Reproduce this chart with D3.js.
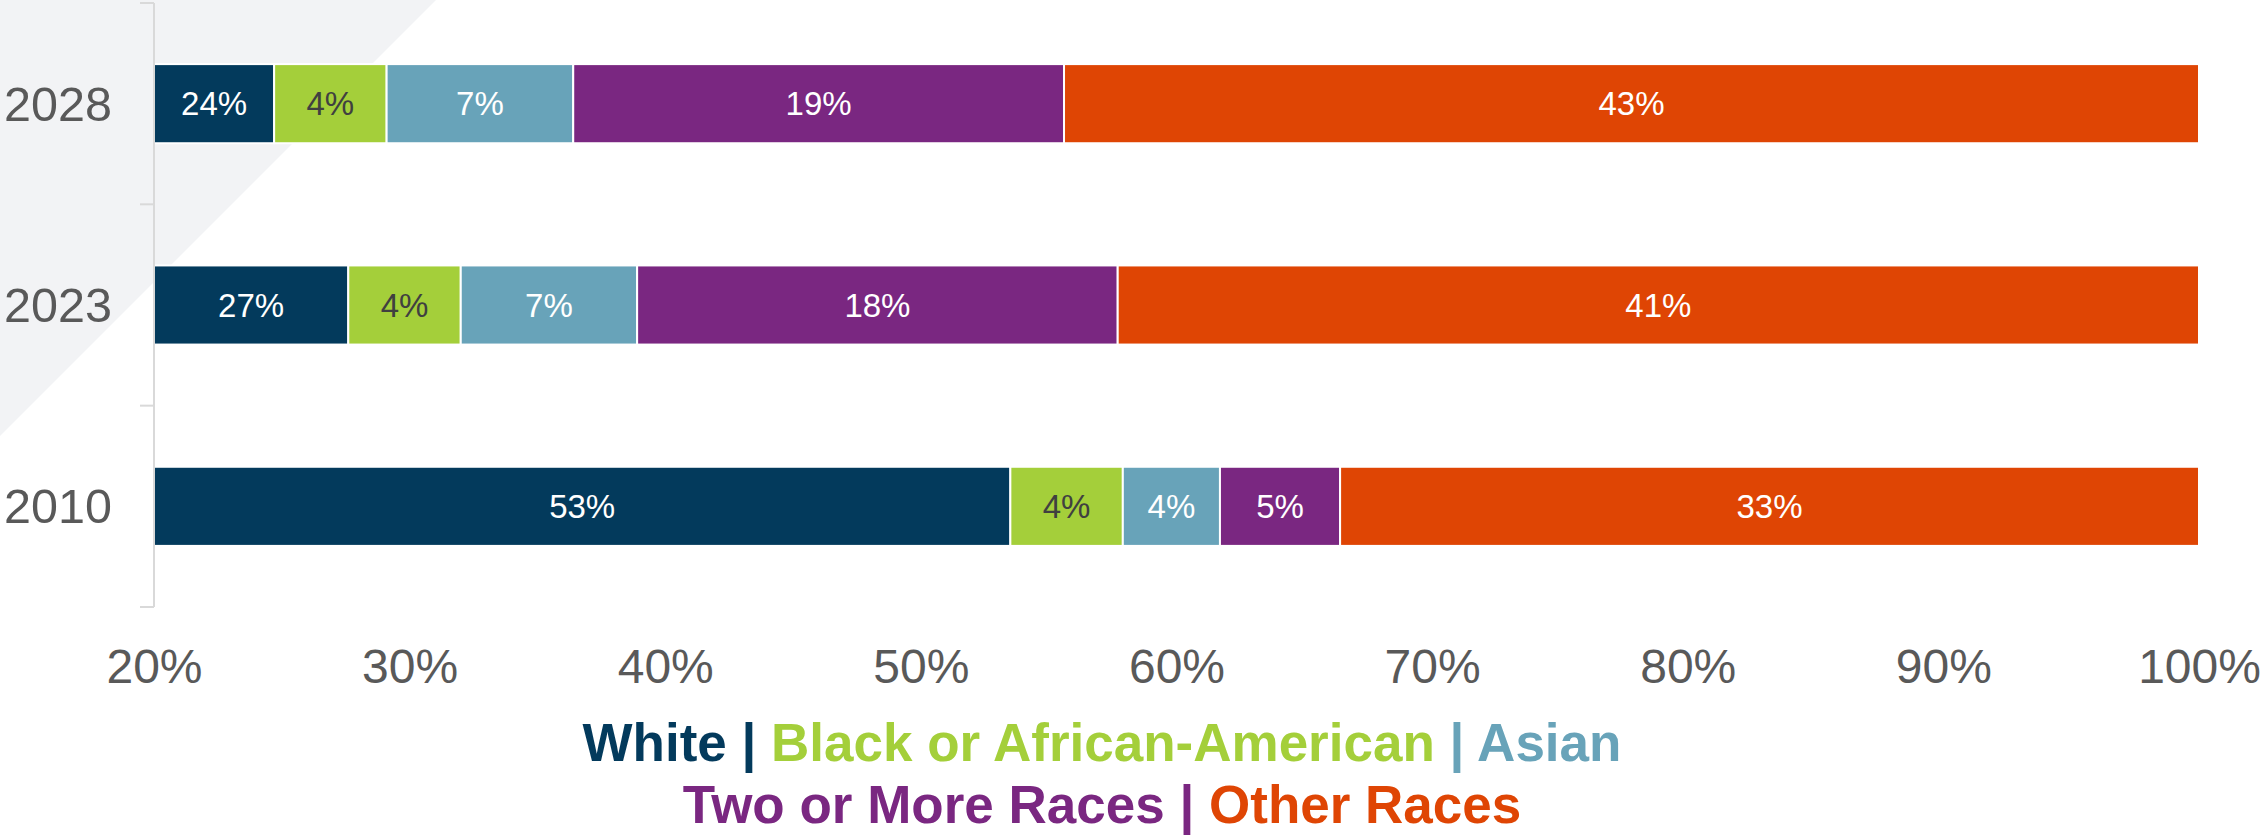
<!DOCTYPE html>
<html>
<head>
<meta charset="utf-8">
<script src="https://cdn.jsdelivr.net/npm/d3@7"></script>
<style>
  body { margin: 0; background: #fff; }
  svg { display: block; font-family: Arial, "Liberation Sans", sans-serif; }
</style>
</head>
<body>
<svg id="chart" width="2260" height="835"></svg>
<script>
// years top to bottom
const years = ['2028', '2023', '2010'];
const groups = ['White', 'Black or African-American', 'Asian', 'Two or More Races', 'Other Races'];
const groupColors = ['#033a5c', '#a4cf3a', '#68a3b9', '#7a2781', '#df4504'];

// shares in %
const white = [24.7, 27.6, 53.5];
const black = [4.4, 4.4, 4.4];
const asian = [7.3, 6.9, 3.8];
const twoOrMore = [19.2, 18.8, 4.7];
const other = [44.4, 42.3, 33.6];

// labels as printed on the bars
const whiteLabels = ['24%', '27%', '53%'];
const blackLabels = ['4%', '4%', '4%'];
const asianLabels = ['7%', '7%', '4%'];
const twoLabels = ['19%', '18%', '5%'];
const otherLabels = ['43%', '41%', '33%'];

const xTicks = [20, 30, 40, 50, 60, 70, 80, 90, 100];

const series = [white, black, asian, twoOrMore, other];
const labels = [whiteLabels, blackLabels, asianLabels, twoLabels, otherLabels];

const rows = years.map((yr, i) => {
    const row = { year: yr };
    groups.forEach((g, k) => { row[g] = series[k][i]; });
    return row;
});

const svg = d3.select('#chart');

// light grey corner behind the plot
svg.append('path')
    .attr('d', 'M0,0 L436,0 L0,436 Z')
    .attr('fill', '#f2f3f5');

const x = d3.scaleLinear().domain([20, 100]).range([154, 2199]);
const yOuter = d3.scaleBand().domain(years).range([3, 607]).padding(0);
const y = d3.scaleBand().domain(years).range([3, 607]).paddingInner(0.607).paddingOuter(0.3035);

const stacked = d3.stack().keys(groups)(rows);

const layer = svg.append('g')
    .selectAll('g')
    .data(stacked)
    .join('g')
    .attr('fill', (d, i) => groupColors[i]);

layer.selectAll('rect')
    .data(d => d)
    .join('rect')
    .attr('x', d => x(Math.max(20, d[0])))
    .attr('y', d => y(d.data.year))
    .attr('width', d => x(d[1]) - x(Math.max(20, d[0])))
    .attr('height', y.bandwidth())
    .attr('stroke', '#fff')
    .attr('stroke-width', 2);

layer.selectAll('text')
    .data((d, k) => d.map((v, i) => ({ v, k, label: labels[k][i] })))
    .join('text')
    .attr('x', d => (x(Math.max(20, d.v[0])) + x(d.v[1])) / 2)
    .attr('y', d => y(d.v.data.year) + y.bandwidth() / 2)
    .attr('dy', '0.35em')
    .attr('text-anchor', 'middle')
    .attr('font-size', 33)
    .attr('fill', d => d.k === 1 ? '#404040' : '#fff')
    .text(d => d.label);

// y axis: line, ticks at category boundaries, year labels
const yAxis = svg.append('g');
yAxis.append('line')
    .attr('x1', 154).attr('x2', 154)
    .attr('y1', yOuter.range()[0]).attr('y2', yOuter.range()[1])
    .attr('stroke', '#d9d9d9').attr('stroke-width', 2);
const bounds = years.map(yr => yOuter(yr)).concat([yOuter.range()[1]]);
yAxis.selectAll('.tick')
    .data(bounds)
    .join('line')
    .attr('x1', 140).attr('x2', 154)
    .attr('y1', d => d).attr('y2', d => d)
    .attr('stroke', '#d9d9d9').attr('stroke-width', 2);
yAxis.selectAll('text')
    .data(years)
    .join('text')
    .attr('x', 112)
    .attr('y', d => y(d) + y.bandwidth() / 2)
    .attr('dy', '0.35em')
    .attr('text-anchor', 'end')
    .attr('font-size', 48.5)
    .attr('fill', '#595959')
    .text(d => d);

// x axis labels only
const xAxis = svg.append('g')
    .attr('transform', 'translate(0,646)')
    .call(d3.axisBottom(x).tickValues(xTicks).tickSize(0).tickFormat(d => d + '%'));
xAxis.select('.domain').remove();
xAxis.selectAll('text')
    .attr('font-size', 48)
    .attr('font-family', 'Arial, "Liberation Sans", sans-serif')
    .attr('fill', '#595959')
    .attr('dy', '0.71em');

// legend: coloured words with pipes
const legendLines = [
    [[0, 'White'], [0, ' | '], [1, 'Black or African-American'], [2, ' | '], [2, 'Asian']],
    [[3, 'Two or More Races'], [3, ' | '], [4, 'Other Races']]
];
const legendY = [761, 823];
legendLines.forEach((parts, li) => {
    const t = svg.append('text')
        .attr('x', 1102)
        .attr('y', legendY[li])
        .attr('text-anchor', 'middle')
        .attr('font-size', 53)
        .attr('font-weight', 'bold')
        .attr('xml:space', 'preserve')
        .style('white-space', 'pre');
    parts.forEach(p => {
        t.append('tspan').attr('fill', groupColors[p[0]]).text(p[1]);
    });
});
</script>
</body>
</html>
